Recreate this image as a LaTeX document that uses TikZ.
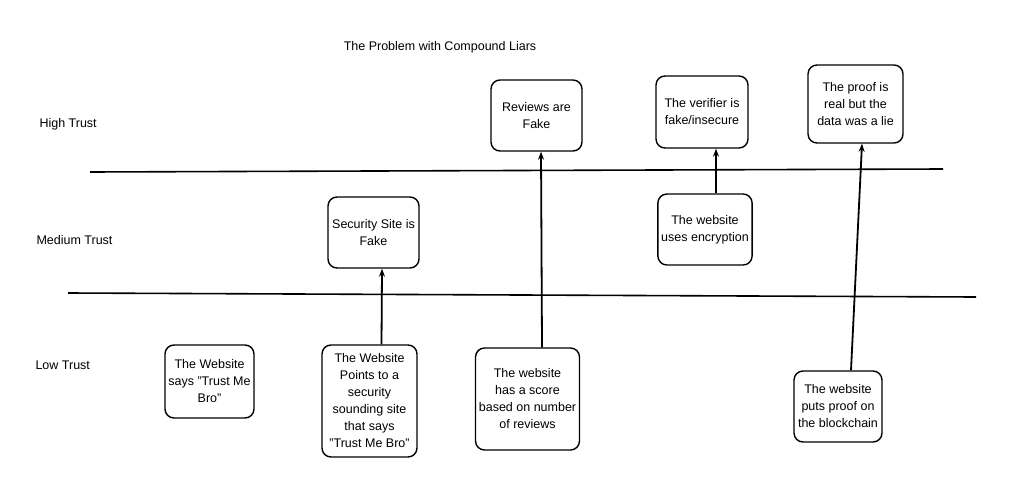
\documentclass[tikz,border=0pt]{standalone}
\usepackage{fontspec}
\setmainfont{Liberation Sans}
\usetikzlibrary{arrows.meta}
\begin{document}
\begin{tikzpicture}[x=1pt,y=-1pt,
  card/.style={draw,line width=1.4pt,rounded corners=9pt,align=center,font=\fontsize{12.5}{17}\selectfont},
  lbl/.style={font=\fontsize{12.5}{17}\selectfont},
  arr/.style={line width=1.8pt,-{Stealth[length=8pt]}}]
\useasboundingbox (0,0) rectangle (1024,495);
\node[lbl] (title) at (440,47) {The Problem with Compound Liars};
\node[lbl,anchor=west] (ht) at (36,124) {High Trust};
\node[lbl,anchor=west] (mt) at (33,240) {Medium Trust};
\node[lbl,anchor=west] (lt) at (32,365) {Low Trust};
\coordinate (l1a) at (90,172); \coordinate (l1b) at (943,169);
\coordinate (l2a) at (68,293); \coordinate (l2b) at (976,297);
\draw[line width=1.6pt] (l1a) -- (l1b);
\draw[line width=1.6pt] (l2a) -- (l2b);
\node[card,minimum width=91pt,minimum height=71pt] (rev) at (536.5,115.5) {Reviews are\\Fake};
\node[card,minimum width=92pt,minimum height=72pt] (ver) at (702,112) {The verifier is\\fake/insecure};
\node[card,minimum width=95pt,minimum height=78pt] (proof) at (855.5,104) {The proof is\\real but the\\data was a lie};
\node[card,minimum width=91pt,minimum height=71pt] (sec) at (373.5,232.5) {Security Site is\\Fake};
\node[card,minimum width=90pt,minimum height=71pt] (enc) at (705,229.5) {The website\\uses encryption};
\node[card,minimum width=89pt,minimum height=73pt] (say) at (209.5,381.5) {The Website\\says "Trust Me\\Bro"};
\node[card,minimum width=95pt,minimum height=112pt] (pts) at (369.5,401) {The Website\\Points to a\\security\\sounding site\\that says\\"Trust Me Bro"};
\node[card,minimum width=91pt,minimum height=102pt] (score) at (527.5,399) {The website\\has a score\\based on number\\of reviews};
\node[card,minimum width=88pt,minimum height=71pt] (chain) at (838,406.5) {The website\\puts proof on\\the blockchain};
\draw[arr] ([xshift=12pt]pts.north) -- ([xshift=8.5pt]sec.south);
\draw[arr] ([xshift=14.5pt]score.north) -- ([xshift=4.5pt]rev.south);
\draw[arr] ([xshift=11pt]enc.north) -- ([xshift=14pt]ver.south);
\draw[arr] ([xshift=13pt]chain.north) -- ([xshift=6.5pt]proof.south);
\end{tikzpicture}
\end{document}
